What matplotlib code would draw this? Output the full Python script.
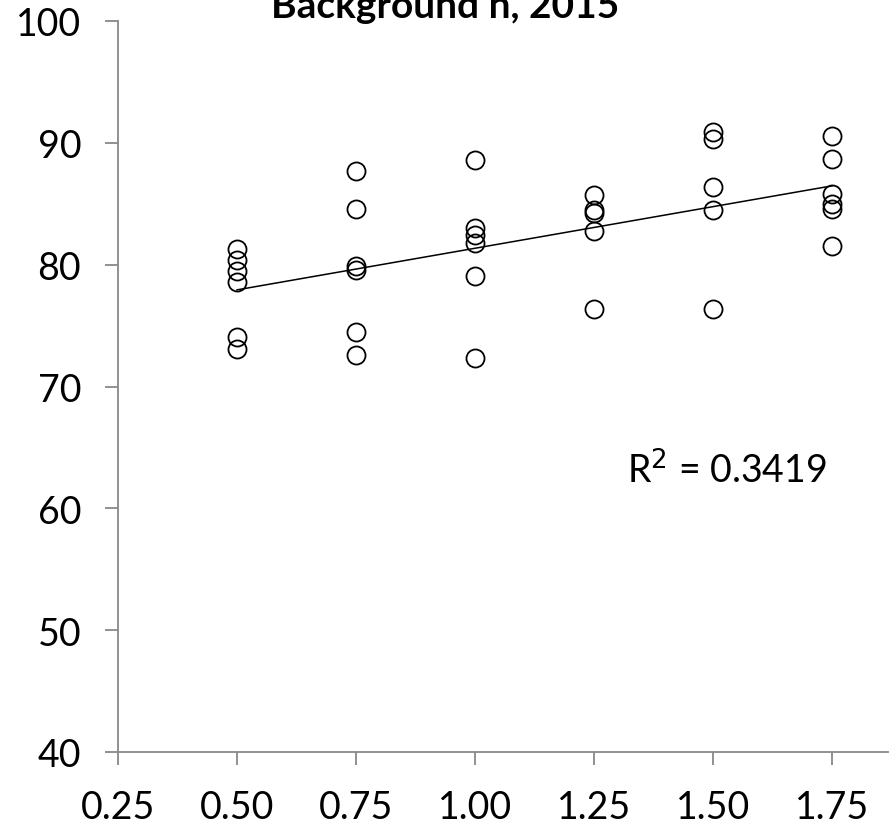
import numpy as np
import matplotlib.pyplot as plt

plt.rcParams['font.family'] = ['Lato', 'DejaVu Sans']

# Valores
x_050 = [81.3, 80.4, 79.5, 78.6, 74.1, 73.1]
x_075 = [87.7, 84.6, 79.9, 79.6, 74.5, 72.6]
x_100 = [88.6, 83.0, 82.4, 81.8, 79.1, 72.3]
x_125 = [85.7, 84.5, 84.2, 82.8, 76.4]
x_150 = [90.9, 90.3, 86.4, 84.5, 76.4]
x_175 = [90.6, 88.7, 85.8, 85.0, 84.6, 81.5]
grupos = [0.50, 0.75, 1.00, 1.25, 1.50, 1.75]
valores = [x_050, x_075, x_100, x_125, x_150, x_175]
xticks = [0.25, 0.50, 0.75, 1.00, 1.25, 1.50, 1.75]
yticks = [40, 50, 60, 70, 80, 90, 100]
titulo = "Background n, 2015"
r2_texto = "R$^2$ = 0.3419"

x = np.concatenate([[g] * len(v) for g, v in zip(grupos, valores)])
y = np.concatenate(valores)

W, H = 890, 829
fig = plt.figure(figsize=(W / 100, H / 100), dpi=100)
ax = fig.add_axes([118 / W, (H - 753) / H, (888 - 118) / W, (753 - 22) / H])

ax.plot(x, y, 'o', markerfacecolor='none', markeredgecolor='black',
        markersize=13, markeredgewidth=1.3, clip_on=False)

# Linea de tendencia lineal
m, b = np.polyfit(x, y, 1)
xt = np.array([min(grupos), max(grupos)])
ax.plot(xt, m * xt + b, color='black', linewidth=1.1)

ax.set_xlim(0.25, 0.25 + (888 - 118) / 476)
ax.set_ylim(40, 100)
ax.set_xticks(xticks)
ax.set_xticklabels([f"{t:.2f}" for t in xticks])
ax.set_yticks(yticks)

for s in ['top', 'right']:
    ax.spines[s].set_visible(False)
for s in ['left', 'bottom']:
    ax.spines[s].set_color('#888888')
    ax.spines[s].set_linewidth(1.3)
ax.tick_params(axis='both', direction='out', length=9.5, width=1.3,
               color='#888888', labelsize=27, pad=17)

# Etiqueta R² en coordenadas de datos
ax.text(1.32, 62.1, r2_texto, fontsize=27, ha='left', va='baseline')

fig.text(445 / W, 1 - 18 / H, titulo, fontsize=28, fontweight='bold',
         ha='center', va='baseline')

fig.savefig('out.png', dpi=100)
